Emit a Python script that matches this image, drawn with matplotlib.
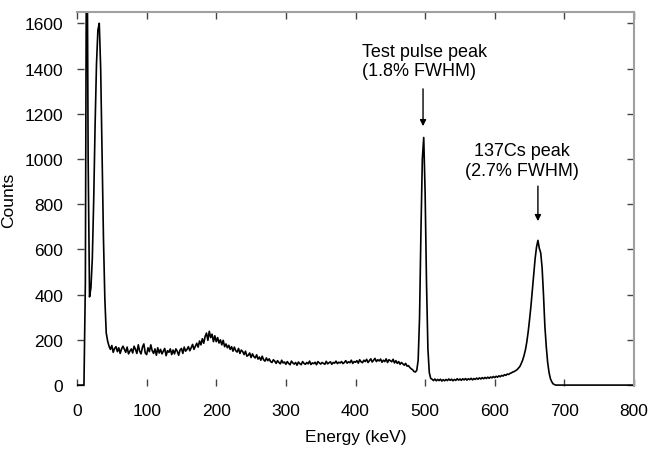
import numpy as np
import matplotlib
matplotlib.use("Agg")
import matplotlib.pyplot as plt

plt.rcParams['font.family'] = ['Liberation Sans', 'DejaVu Sans']
plt.rcParams['font.size'] = 12.5

# energy grid, 2 keV channels
energy_kev = np.arange(0, 801, 2)

# counts, 10 channels (20 keV) per row
counts = [
    0, 0, 0, 0, 0, 0, 450, 2400, 1000, 390,                  # 0
    430, 560, 820, 1150, 1420, 1570, 1600, 1400, 1020, 650,   # 20
    380, 230, 195, 172, 158, 175, 145, 162, 170, 148,         # 40
    165, 140, 160, 172, 158, 145, 168, 138, 150, 160,         # 60
    142, 172, 158, 140, 178, 150, 138, 168, 182, 142,         # 80
    135, 165, 148, 178, 152, 140, 160, 132, 165, 142,         # 100
    158, 138, 150, 162, 130, 152, 145, 160, 135, 155,         # 120
    138, 160, 150, 132, 155, 162, 140, 168, 150, 158,         # 140
    170, 152, 165, 180, 158, 172, 185, 168, 195, 178,         # 160
    205, 185, 215, 230, 198, 238, 210, 225, 192, 218,         # 180
    192, 210, 186, 200, 178, 198, 170, 182, 165, 176,         # 200
    158, 170, 150, 168, 152, 146, 162, 140, 155, 148,         # 220
    135, 150, 128, 132, 142, 122, 138, 126, 120, 134,         # 240
    115, 124, 110, 128, 112, 106, 120, 108, 116, 104,         # 260
    100, 112, 106, 96, 108, 100, 94, 110, 98, 102,            # 280
    92, 104, 96, 90, 106, 98, 93, 100, 88, 102,               # 300
    95, 90, 104, 96, 92, 100, 94, 106, 91, 98,                # 320
    95, 101, 90, 104, 98, 93, 100, 96, 92, 105,               # 340
    94, 99, 103, 92, 100, 97, 106, 95, 101, 98,               # 360
    104, 95, 100, 108, 97, 103, 99, 110, 96, 104,             # 380
    101, 108, 97, 112, 103, 99, 110, 104, 114, 100,           # 400
    108, 116, 102, 110, 118, 104, 112, 107, 115, 101,         # 420
    110, 104, 116, 100, 112, 108, 103, 114, 98, 108,          # 440
    96, 104, 92, 100, 94, 88, 96, 84, 86, 78,                 # 460
    72, 68, 60, 58, 65, 110, 300, 680, 1000, 1095,            # 480
    850, 450, 160, 55, 30, 26, 20, 27, 19, 25,                # 500
    20, 26, 18, 24, 19, 25, 20, 27, 21, 26,                   # 520
    19, 25, 21, 28, 22, 27, 21, 28, 23, 29,                   # 540
    22, 28, 24, 30, 23, 29, 25, 31, 26, 32,                   # 560
    27, 33, 28, 34, 29, 35, 30, 36, 32, 38,                   # 580
    33, 39, 35, 41, 37, 43, 40, 46, 43, 49,                   # 600
    47, 52, 54, 58, 60, 64, 68, 75, 82, 95,                   # 620
    110, 130, 155, 190, 235, 290, 350, 420, 490, 560,         # 640
    610, 640, 605, 585, 520, 400, 260, 170, 100, 55,          # 660
    28, 14, 5, 2, 0, 0, 0, 0, 0, 0,                           # 680
    0, 0, 0, 0, 0, 0, 0, 0, 0, 0,                             # 700
    0, 0, 0, 0, 0, 0, 0, 0, 0, 0,                             # 720
    0, 0, 0, 0, 0, 0, 0, 0, 0, 0,                             # 740
    0, 0, 0, 0, 0, 0, 0, 0, 0, 0,                             # 760
    0, 0, 0, 0, 0, 0, 0, 0, 0, 0,                             # 780
    0,                                                        # 800
]

x_ticks = [0, 100, 200, 300, 400, 500, 600, 700, 800]
y_ticks = [0, 200, 400, 600, 800, 1000, 1200, 1400, 1600]

fig = plt.figure(figsize=(6.53, 4.56), dpi=100)
ax = fig.add_axes([77/653, 69/456, 557/653, 374/456])

ax.plot(energy_kev, counts, color='black', lw=1.2)

ax.set_xlim(0, 800)
ax.set_ylim(-4, 1650)
ax.set_xticks(x_ticks)
ax.set_yticks(y_ticks)

for s in ['left', 'bottom']:
    ax.spines[s].set_visible(False)
for s in ['top', 'right']:
    ax.spines[s].set_color('#a0a0a0')
    ax.spines[s].set_linewidth(1.5)

ax.tick_params(direction='in', length=5, width=1, color='#444444',
               top=True, right=True)
ax.tick_params(axis='x', pad=12)
ax.tick_params(axis='y', pad=10)

ax.set_xlabel('Energy (keV)', labelpad=8)
ax.set_ylabel('Counts', labelpad=6)

arrow = dict(arrowstyle='-|>', color='black', lw=1,
             mutation_scale=9, shrinkA=0, shrinkB=0)

# test pulse peak
ax.text(409, 1515, 'Test pulse peak\n(1.8% FWHM)', ha='left', va='top',
        fontsize=13)
ax.annotate('', xy=(497, 1145), xytext=(497, 1310), arrowprops=arrow)

# Cs-137 peak
ax.text(639, 1075, '137Cs peak\n(2.7% FWHM)', ha='center', va='top',
        fontsize=13)
ax.annotate('', xy=(662, 725), xytext=(662, 880), arrowprops=arrow)

fig.savefig('out.png', dpi=100)
